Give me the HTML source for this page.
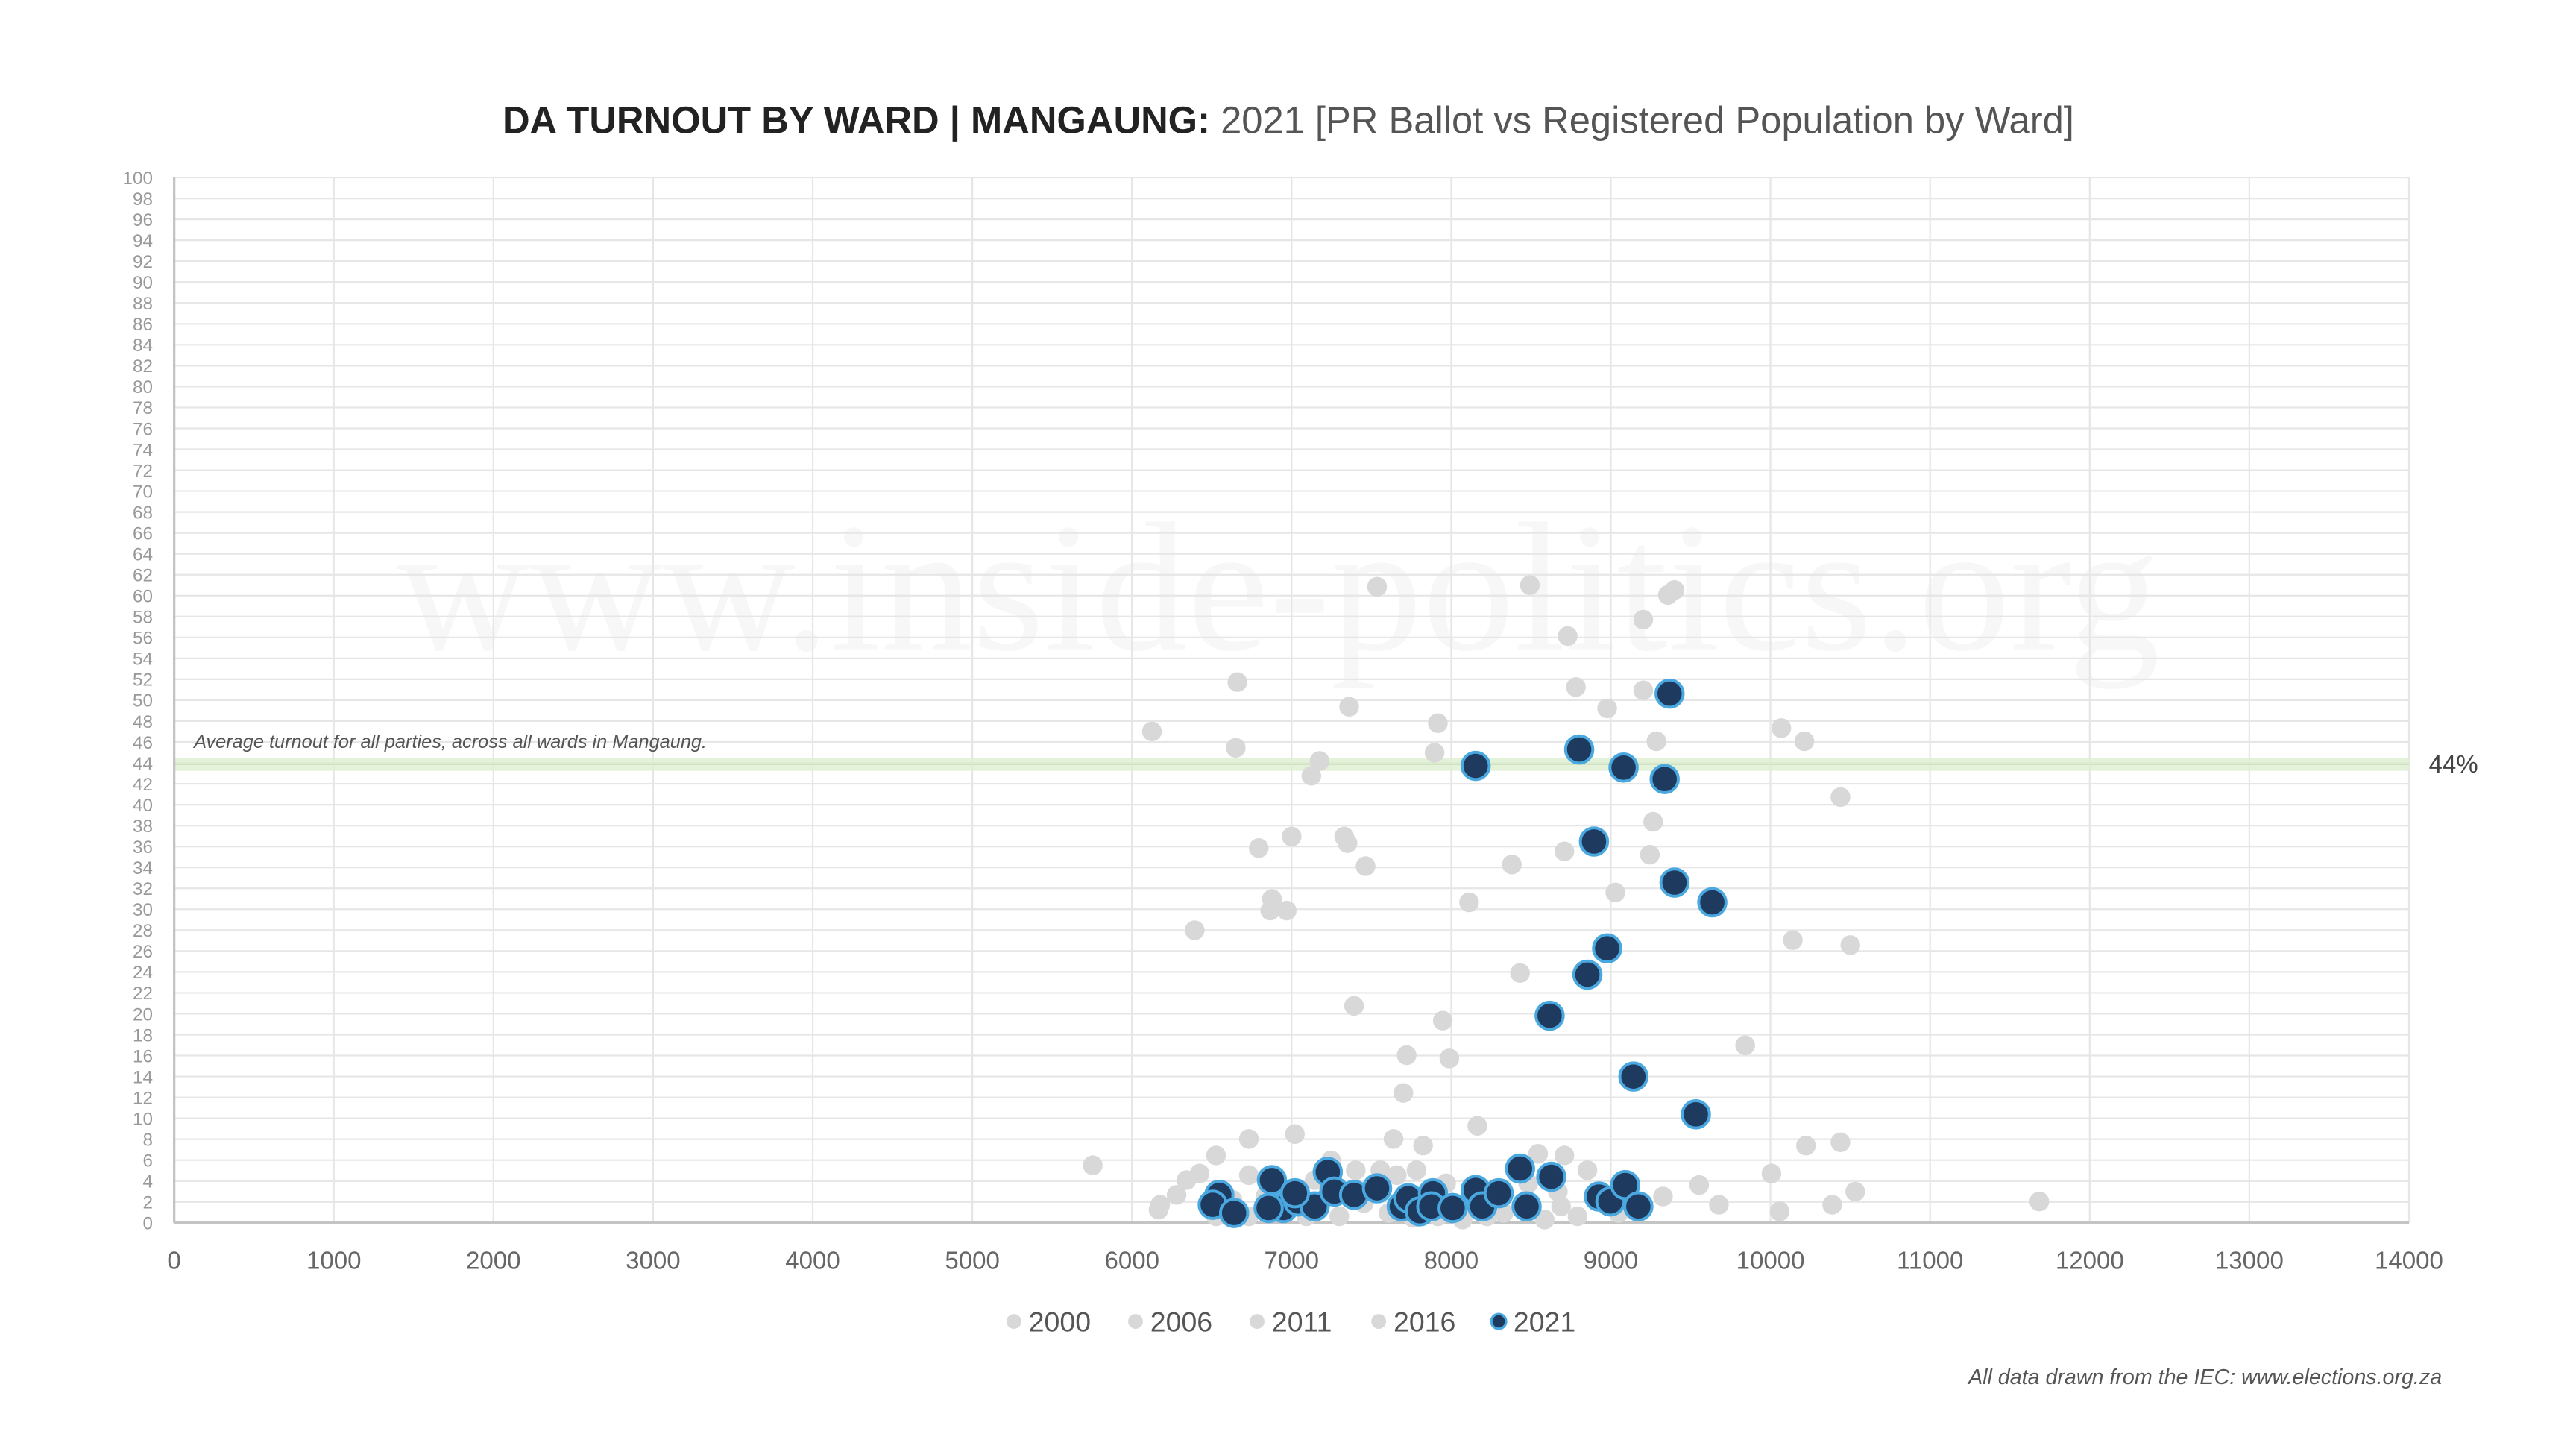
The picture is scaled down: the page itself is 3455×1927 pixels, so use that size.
<!DOCTYPE html>
<html><head><meta charset="utf-8"><style>html,body{margin:0;padding:0;background:#fff}svg{display:block}</style></head>
<body>
<svg width="3455" height="1927" viewBox="0 0 1567.6 874.3" xmlns="http://www.w3.org/2000/svg" font-family="Liberation Sans, sans-serif">
<rect width="1567.6" height="874.3" fill="#fff"/>
<text x="784" y="81" text-anchor="middle" font-size="23"><tspan font-weight="bold" fill="#222">DA TURNOUT BY WARD | MANGAUNG:</tspan><tspan fill="#555"> 2021 [PR Ballot vs Registered Population by Ward]</tspan></text>
<text x="778" y="395" text-anchor="middle" font-family="Liberation Serif, serif" font-size="112" fill="#000" fill-opacity="0.03">www.inside-politics.org</text>
<g id="grid" stroke="#e6e6e6" stroke-width="1"></g>
<g id="ylab" font-size="11" fill="#999" text-anchor="end"></g>
<g id="xlab" font-size="15" fill="#666" text-anchor="middle"></g>
<rect x="106" y="461" width="1360" height="8" fill="#dcefcf" opacity="0.8"/>
<line x1="106" y1="465" x2="1466" y2="465" stroke="#cfe3c0" stroke-width="1"/>
<text x="118" y="455" font-size="11.5" font-style="italic" fill="#555">Average turnout for all parties, across all wards in Mangaung.</text>
<text x="1478" y="470" font-size="15" fill="#444">44%</text>
<line x1="106" y1="108" x2="106" y2="744" stroke="#c4c4c4" stroke-width="1.5"/>
<line x1="106" y1="744" x2="1466" y2="744" stroke="#c4c4c4" stroke-width="2"/>
<g id="gray" fill="#d8d8d8"></g>
<g id="blue" fill="#1f3a5f" stroke="#4aa8e0" stroke-width="1.8"></g>
<g font-size="17" fill="#555">
<circle cx="617" cy="804" r="4.5" fill="#d8d8d8"/><text x="626" y="810">2000</text>
<circle cx="691" cy="804" r="4.5" fill="#d8d8d8"/><text x="700" y="810">2006</text>
<circle cx="765" cy="804" r="4.5" fill="#d8d8d8"/><text x="774" y="810">2011</text>
<circle cx="839" cy="804" r="4.5" fill="#d8d8d8"/><text x="848" y="810">2016</text>
<circle cx="912" cy="804" r="4.5" fill="#1f3a5f" stroke="#4aa8e0" stroke-width="1.5"/><text x="921" y="810">2021</text>
</g>
<text x="1486" y="842" text-anchor="end" font-size="13" font-style="italic" fill="#555">All data drawn from the IEC: www.elections.org.za</text>
<script>
var ns="http://www.w3.org/2000/svg";
function el(p,t,a,txt){var e=document.createElementNS(ns,t);for(var k in a)e.setAttribute(k,a[k]);if(txt!==undefined)e.textContent=txt;document.getElementById(p).appendChild(e);}
for(var v=0;v<=100;v+=2){var y=744-v*6.36;el("grid","line",{x1:106,x2:1466,y1:y,y2:y});el("ylab","text",{x:93,y:y+4},v);}
for(var i=0;i<=14;i++){var x=106+i*97.14;if(i>0)el("grid","line",{x1:x,x2:x,y1:108,y2:744});el("xlab","text",{x:x,y:772},i*1000);}
var g=[[701,445],[753,415],[752,455],[727,566],[665,709],[766,516],[786,509],[773,554],[783,554],[774,547],[798,472],[803,463],[821,430],[838,357],[818,509],[820,513],[831,527],[824,612],[873,458],[875,440],[894,549],[878,621],[856,642],[854,665],[882,644],[899,685],[866,697],[848,693],[931,356],[954,387],[959,418],[978,431],[1000,377],[1000,420],[1015,362],[1019,359],[1008,451],[1006,500],[1004,520],[983,543],[952,518],[920,526],[925,592],[1084,443],[1098,451],[1120,485],[1091,572],[1126,575],[1062,636],[1099,697],[1120,695],[1078,714],[1034,721],[1129,725],[1115,733],[1046,733],[1083,737],[1241,731],[1012,728],[952,703],[936,702],[740,703],[730,714],[760,693],[788,690],[810,706],[750,730],[706,733],[716,727],[705,736],[740,740],[760,740],[770,728],[795,740],[805,730],[815,740],[830,732],[845,738],[850,715],[860,741],[875,740],[880,720],[890,742],[905,740],[915,738],[930,720],[940,742],[950,734],[960,740],[966,712],[985,738],[825,712],[840,712],[760,715],[722,718],[880,732],[862,712],[800,718],[948,725]];
g.forEach(function(p){el("gray","circle",{cx:p[0],cy:p[1],r:6});});
var b=[[1016,422],[961,456],[988,467],[898,466],[1013,474],[970,512],[1019,537],[1042,549],[978,577],[966,593],[943,618],[994,655],[1032,678],[808,713],[774,718],[925,711],[944,716],[742,727],[738,733],[751,738],[781,735],[790,731],[800,734],[812,725],[824,727],[838,723],[853,734],[857,729],[864,737],[872,726],[871,734],[884,735],[898,724],[902,734],[912,726],[929,734],[973,728],[980,731],[989,721],[997,734],[788,726],[772,735]];
b.forEach(function(p){el("blue","circle",{cx:p[0],cy:p[1],r:8.3});});
</script>
</svg>
</body></html>
